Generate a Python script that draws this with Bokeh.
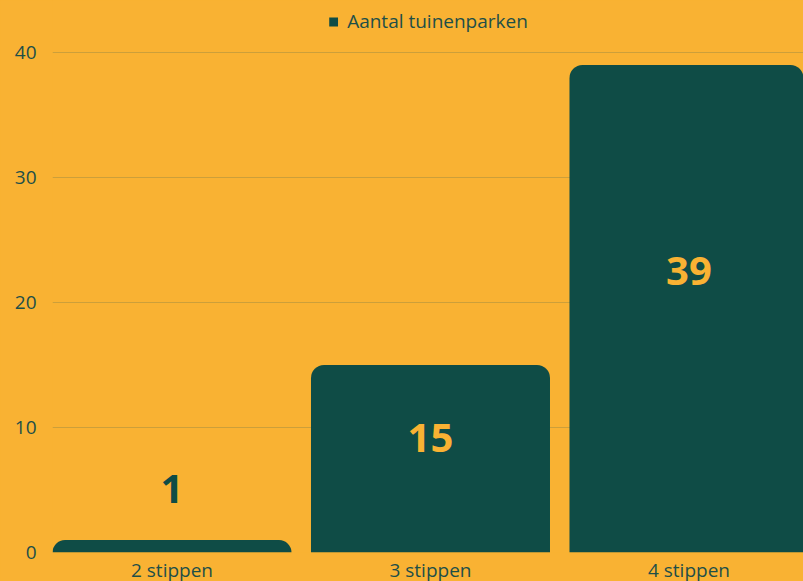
from bokeh.plotting import figure
from bokeh.models import ColumnDataSource, Range1d, FixedTicker, Legend, LegendItem
from bokeh.core.properties import value
from bokeh.embed import file_html
from bokeh.resources import INLINE

# ---- data ----
categories = ["2 stippen", "3 stippen", "4 stippen"]
series_name = "Aantal tuinenparken"
counts = [1, 15, 39]
y_ticks = [0, 10, 20, 30, 40]

# ---- style ----
BG = "#F9B233"
BAR = "#0F4C46"
TXT = "#1E4F48"
GRID = "#CC9F3A"
FONT = "Open Sans"

x = list(range(len(categories)))
inside = [v >= 5 for v in counts]
label_y = [v * 0.5575 + 0.8 if ins else v + 4.1 for v, ins in zip(counts, inside)]
label_color = [BG if ins else BAR for ins in inside]

src = ColumnDataSource(dict(x=x, top=counts, label=[str(v) for v in counts],
                            ly=label_y, lc=label_color))

p = figure(width=803, height=595, output_backend="svg", toolbar_location=None,
           x_range=Range1d(-0.4623, 2.443), y_range=Range1d(0, 44.16),
           min_border_left=52, min_border_right=0, min_border_top=0, min_border_bottom=43)
p.background_fill_color = BG
p.border_fill_color = BG
p.outline_line_color = None

r = p.vbar(x="x", top="top", width=0.9246, source=src, fill_color=BAR, line_color=None,
           border_radius=(13, 13, 0, 0))

p.text(x="x", y="ly", text="label", source=src, text_color="lc",
       text_font=value(FONT), text_font_style="bold", text_font_size="40px",
       text_align="center", text_baseline="middle")

p.xaxis.ticker = FixedTicker(ticks=x)
p.xaxis.major_label_overrides = {i: c for i, c in zip(x, categories)}
p.yaxis.ticker = FixedTicker(ticks=y_ticks)
for ax in (p.xaxis, p.yaxis):
    ax.axis_line_color = None
    ax.major_tick_line_color = None
    ax.minor_tick_line_color = None
    ax.major_tick_out = 0
    ax.major_tick_in = 0
    ax.minor_tick_out = 0
    ax.minor_tick_in = 0
    ax.major_label_text_font = FONT
    ax.major_label_text_font_size = "19px"
    ax.major_label_text_color = TXT
p.xaxis.major_label_standoff = 4
p.yaxis.major_label_standoff = 16

p.xgrid.grid_line_color = None
p.ygrid.grid_line_color = GRID
p.ygrid.grid_line_width = 1

legend = Legend(items=[LegendItem(label=series_name, renderers=[r])],
                location="top_center", orientation="horizontal",
                background_fill_alpha=0, border_line_color=None,
                label_text_font=FONT, label_text_font_size="19px", label_text_color=TXT,
                glyph_width=11, glyph_height=11, margin=8, padding=9, label_standoff=9)
p.add_layout(legend)

html = file_html(p, INLINE)
html = html.replace("</head>",
                    "<style>html,body{background:#F9B233;overflow:hidden;}</style></head>", 1)
open("out.html", "w").write(html)
